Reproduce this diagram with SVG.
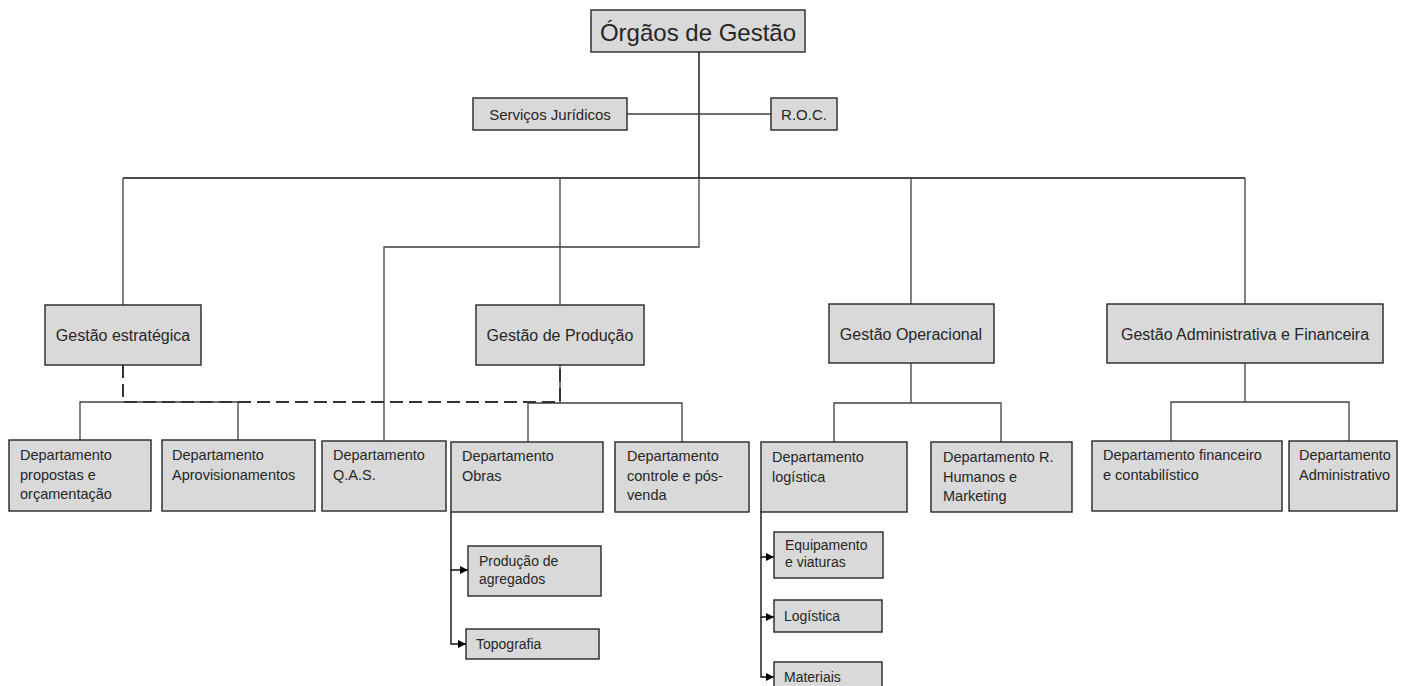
<svg xmlns="http://www.w3.org/2000/svg" width="1403" height="686" viewBox="0 0 1403 686">
<style>
.box{fill:#d9d9d9;stroke:#262626;stroke-width:1.4}
.t{font-family:"Liberation Sans",Arial,sans-serif;fill:#262626}
.top{font-size:24px}
.small{font-size:15px}
.lvl{font-size:16px}
.dep{font-size:14.5px}
.sub{font-size:14px}
.ln{fill:none;stroke:#404040;stroke-width:1.3}
.dk{fill:none;stroke:#111;stroke-width:1.4}
.dash{fill:none;stroke:#333;stroke-width:2;stroke-dasharray:13 6}
</style>
<defs>
<marker id="arr" viewBox="0 0 10 10" refX="10" refY="5" markerWidth="8" markerHeight="8" markerUnits="userSpaceOnUse" orient="auto">
<path d="M0,0 L10,5 L0,10 z" fill="#000"/>
</marker>
</defs>
<rect width="1403" height="686" fill="#fff"/>
<g id="connectors">
<path class="dk" d="M699,52 V178"/>
<path class="ln" d="M627,114 H771"/>
<path class="dk" d="M123,178 H1245"/>
<path class="ln" d="M123,178 V305"/>
<path class="ln" d="M560,178 V305"/>
<path class="ln" d="M911,178 V304"/>
<path class="ln" d="M1245,178 V304"/>
<path class="ln" d="M699,178 V247 H384 V441"/>
<path class="ln" d="M80,440 V402 H238 V440"/>
<path class="ln" d="M560,365 V403"/>
<path class="ln" d="M528,442 V403 H682 V442"/>
<path class="ln" d="M911,363 V403"/>
<path class="ln" d="M834,442 V403 H1001 V442"/>
<path class="ln" d="M1245,363 V402"/>
<path class="ln" d="M1171,441 V402 H1349 V441"/>
<path class="dash" d="M123,365 V402 H560 V365"/>
<path class="dk" d="M451,512 V570 H468" marker-end="url(#arr)"/>
<path class="dk" d="M451,570 V644 H466" marker-end="url(#arr)"/>
<path class="dk" d="M761,511 V557 H774" marker-end="url(#arr)"/>
<path class="dk" d="M761,557 V617 H774" marker-end="url(#arr)"/>
<path class="dk" d="M761,617 V677 H774" marker-end="url(#arr)"/>
</g>
<g id="orgaos-gestao"><rect class="box" x="591" y="10" width="214" height="42"/><text class="t top" x="698" y="41" text-anchor="middle">Órgãos de Gestão</text></g>
<g id="servicos-juridicos"><rect class="box" x="473" y="98" width="154" height="32"/><text class="t small" x="550" y="120" text-anchor="middle">Serviços Jurídicos</text></g>
<g id="roc"><rect class="box" x="771" y="98" width="66" height="32"/><text class="t small" x="804" y="120" text-anchor="middle">R.O.C.</text></g>
<g id="gestao-estrategica"><rect class="box" x="45" y="305" width="156" height="60"/><text class="t lvl" x="123" y="341" text-anchor="middle">Gestão estratégica</text></g>
<g id="gestao-producao"><rect class="box" x="476" y="305" width="168" height="60"/><text class="t lvl" x="560" y="341" text-anchor="middle">Gestão de Produção</text></g>
<g id="gestao-operacional"><rect class="box" x="829" y="304" width="165" height="59"/><text class="t lvl" x="911" y="340" text-anchor="middle">Gestão Operacional</text></g>
<g id="gestao-admin"><rect class="box" x="1107" y="304" width="276" height="59"/><text class="t lvl" x="1245" y="340" text-anchor="middle">Gestão Administrativa e Financeira</text></g>
<g id="dep-propostas"><rect class="box" x="9" y="440" width="142" height="71"/><text class="t dep" x="20" y="460"><tspan x="20">Departamento</tspan><tspan x="20" dy="19.5">propostas e</tspan><tspan x="20" dy="19.5">orçamentação</tspan></text></g>
<g id="dep-aprov"><rect class="box" x="162" y="440" width="153" height="71"/><text class="t dep" x="172" y="460"><tspan x="172">Departamento</tspan><tspan x="172" dy="19.5">Aprovisionamentos</tspan></text></g>
<g id="dep-qas"><rect class="box" x="322" y="441" width="124" height="70"/><text class="t dep" x="333" y="460"><tspan x="333">Departamento</tspan><tspan x="333" dy="19.5">Q.A.S.</tspan></text></g>
<g id="dep-obras"><rect class="box" x="451" y="442" width="152" height="70"/><text class="t dep" x="462" y="461"><tspan x="462">Departamento</tspan><tspan x="462" dy="19.5">Obras</tspan></text></g>
<g id="dep-controle"><rect class="box" x="615" y="442" width="134" height="70"/><text class="t dep" x="627" y="461"><tspan x="627">Departamento</tspan><tspan x="627" dy="19.5">controle e pós-</tspan><tspan x="627" dy="19.5">venda</tspan></text></g>
<g id="dep-logistica"><rect class="box" x="761" y="442" width="146" height="70"/><text class="t dep" x="772" y="462"><tspan x="772">Departamento</tspan><tspan x="772" dy="19.5">logística</tspan></text></g>
<g id="dep-rh"><rect class="box" x="931" y="442" width="141" height="70"/><text class="t dep" x="943" y="462"><tspan x="943">Departamento R.</tspan><tspan x="943" dy="19.5">Humanos e</tspan><tspan x="943" dy="19.5">Marketing</tspan></text></g>
<g id="dep-financeiro"><rect class="box" x="1092" y="441" width="190" height="70"/><text class="t dep" x="1103" y="460"><tspan x="1103">Departamento financeiro</tspan><tspan x="1103" dy="19.5">e contabilístico</tspan></text></g>
<g id="dep-administrativo"><rect class="box" x="1289" y="441" width="108" height="70"/><text class="t dep" x="1299" y="460"><tspan x="1299">Departamento</tspan><tspan x="1299" dy="19.5">Administrativo</tspan></text></g>
<g id="producao-agregados"><rect class="box" x="468" y="546" width="133" height="50"/><text class="t sub" x="479" y="566"><tspan x="479">Produção de</tspan><tspan x="479" dy="18">agregados</tspan></text></g>
<g id="topografia"><rect class="box" x="466" y="629" width="133" height="30"/><text class="t sub" x="476" y="649">Topografia</text></g>
<g id="equipamento"><rect class="box" x="774" y="532" width="109" height="46"/><text class="t sub" x="785" y="550"><tspan x="785">Equipamento</tspan><tspan x="785" dy="17">e viaturas</tspan></text></g>
<g id="logistica"><rect class="box" x="774" y="600" width="108" height="32"/><text class="t sub" x="784" y="621">Logística</text></g>
<g id="materiais"><rect class="box" x="774" y="662" width="108" height="34"/><text class="t sub" x="784" y="682">Materiais</text></g>
</svg>
